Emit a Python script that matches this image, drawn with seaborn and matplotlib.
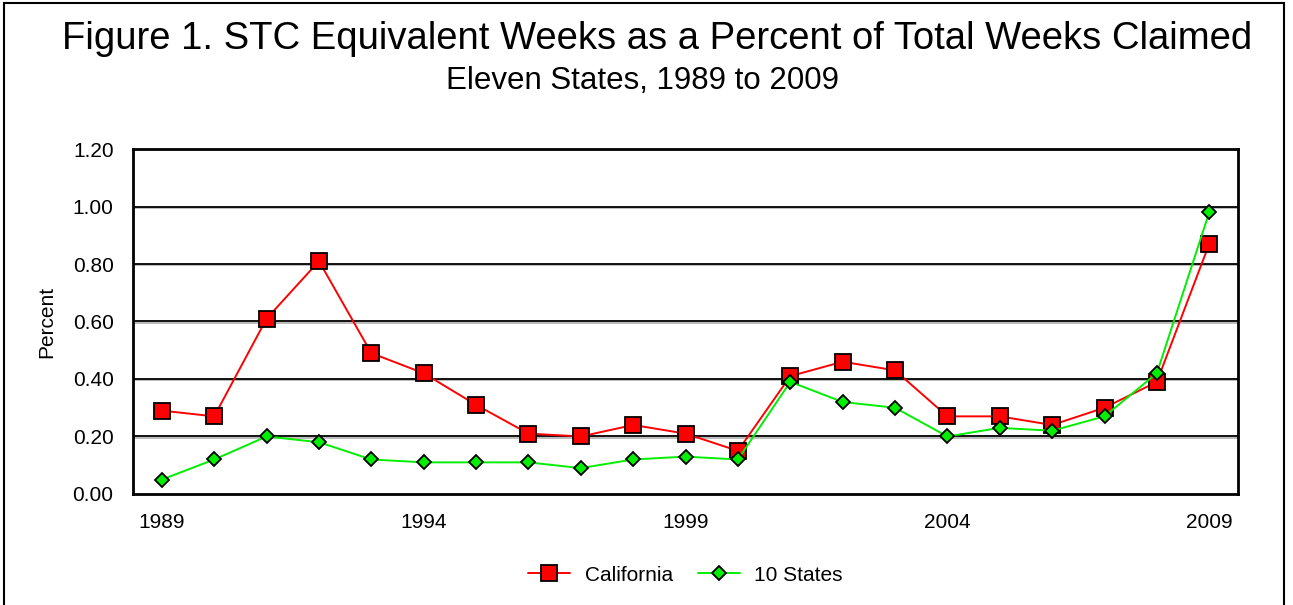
import pandas as pd
import numpy as np
import matplotlib
matplotlib.use('Agg')
import matplotlib.pyplot as plt
import seaborn as sns

sns.set_style('white')
plt.rcParams['font.family'] = ['Liberation Sans', 'DejaVu Sans']
plt.rcParams['text.color'] = 'black'
plt.rcParams['axes.labelcolor'] = 'black'
plt.rcParams['xtick.color'] = 'black'
plt.rcParams['ytick.color'] = 'black'

# values
years = list(range(1989, 2010))
california = [0.29, 0.27, 0.61, 0.81, 0.49, 0.42, 0.31, 0.21, 0.20, 0.24, 0.21,
              0.15, 0.41, 0.46, 0.43, 0.27, 0.27, 0.24, 0.30, 0.39, 0.87]
ten_states = [0.05, 0.12, 0.20, 0.18, 0.12, 0.11, 0.11, 0.11, 0.09, 0.12, 0.13,
              0.12, 0.39, 0.32, 0.30, 0.20, 0.23, 0.22, 0.27, 0.42, 0.98]
year_ticks = [1989, 1994, 1999, 2004, 2009]
y_ticks = [0.0, 0.2, 0.4, 0.6, 0.8, 1.0, 1.2]

df = pd.DataFrame({'Year': years, 'California': california, '10 States': ten_states})
df_long = pd.melt(df, id_vars='Year', var_name='Series', value_name='Percent')

fig = plt.figure(figsize=(12.93, 6.05), dpi=100)
ax = fig.add_axes([0.1029, 0.1835, 0.8546, 0.5702])

# horizontal gridlines with a faint shadow like the original
for v in y_ticks[1:-1]:
    ax.axhline(v - 0.004, color='#b0b0b0', lw=1.2, zorder=0)
    ax.axhline(v, color='black', lw=1.3, zorder=1)

sns.lineplot(data=df_long, x='Year', y='Percent', hue='Series', style='Series',
             palette={'California': '#ff0000', '10 States': '#00ee00'},
             markers={'California': 's', '10 States': 'D'},
             dashes=False, lw=1.4, ax=ax, zorder=3,
             markeredgecolor='black', markeredgewidth=1.3)

# resize markers per series
for line in ax.lines:
    if line.get_marker() == 's':
        line.set_markersize(11)
    elif line.get_marker() == 'D':
        line.set_markersize(7)

ax.set_xlim(1988.45, 2009.55)
ax.set_ylim(0, 1.2)
ax.set_xticks(year_ticks)
ax.set_yticks(y_ticks)
ax.set_yticklabels([f'{v:.2f}' for v in y_ticks])
ax.tick_params(axis='y', length=0, labelsize=15, pad=14)
ax.tick_params(axis='x', length=0, labelsize=15, pad=14)
ax.set_xlabel('')
ax.set_ylabel('Percent', fontsize=15, labelpad=12)
for s in ax.spines.values():
    s.set_color('black')
    s.set_linewidth(2)

handles, labels = ax.get_legend_handles_labels()
for h in handles:
    if h.get_marker() == 's':
        h.set_markersize(11)
    else:
        h.set_markersize(7)
    h.set_markeredgecolor('black')
    h.set_markeredgewidth(1.3)
ax.legend(handles, labels, loc='center', bbox_to_anchor=(0.5, -0.235),
          ncol=2, frameon=False, fontsize=15, handlelength=2.0, columnspacing=1.2,
          handletextpad=0.7)

fig.text(0.508, 0.935, 'Figure 1. STC Equivalent Weeks as a Percent of Total Weeks Claimed',
         ha='center', va='center', fontsize=27.5)
fig.text(0.497, 0.866, 'Eleven States, 1989 to 2009', ha='center', va='center', fontsize=22.5)

# outer frame around the whole chart
fig.patches.append(plt.Rectangle((0.003, -0.01), 0.99, 1.005, transform=fig.transFigure,
                                 fill=False, edgecolor='black', lw=1.5))

fig.savefig('out.png', dpi=100)
